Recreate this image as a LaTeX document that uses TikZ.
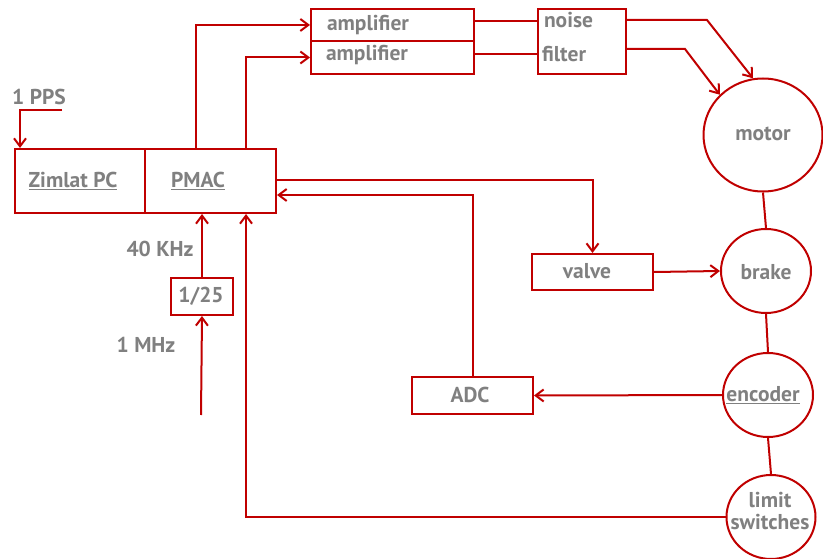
\documentclass[tikz,border=0pt]{standalone}
\usepackage{fontspec}
\setmainfont{PT Sans}
\usetikzlibrary{arrows.meta,shapes.geometric}
\definecolor{dred}{RGB}{192,0,0}
\definecolor{tgray}{RGB}{128,128,128}
\newcommand{\lblfont}{\fontsize{21.5}{23}\selectfont\bfseries}
\begin{document}
\begin{tikzpicture}[x=1pt,y=-1pt,line width=2pt,
  lbl/.style={font=\lblfont,text=tgray,inner sep=0pt,align=center},
  box/.style={draw=dred,rectangle,inner sep=0pt,anchor=north west},
  oval/.style={draw=dred,ellipse,inner sep=0pt},
  wire/.style={draw=dred,line width=2pt},
  arr/.style={wire,-{Straight Barb[length=8pt,width=12pt]}}]
\useasboundingbox (0,0) rectangle (823,559);
% boxes
\node[box,minimum width=130pt,minimum height=64pt] (zp) at (14,148) {};
\node[box,minimum width=131pt,minimum height=64pt] (pm) at (144,148) {};
\node[lbl] (zpt) at (73,181) {\underline{Zimlat PC}};
\node[lbl] (pmt) at (198,181) {\underline{PMAC}};
\node[box,minimum width=163pt,minimum height=32pt] (amp1) at (310,8) {};
\node[box,minimum width=163pt,minimum height=33pt] (amp2) at (310,40) {};
\node[lbl,anchor=west] (amp1t) at (326,25) {amplifier};
\node[lbl,anchor=west] (amp2t) at (325,55) {amplifier};
\node[box,minimum width=88pt,minimum height=65pt] (nf) at (537,8) {};
\node[lbl,anchor=west] (nft1) at (543,20) {noise};
\node[lbl,anchor=west] (nft2) at (541,54) {filter};
\node[box,minimum width=121pt,minimum height=36pt] (valve) at (531,253) {};
\node[lbl] (valvet) at (587,271) {valve};
\node[box,minimum width=121pt,minimum height=37pt] (adc) at (411,376) {};
\node[lbl] (adct) at (470,395) {ADC};
\node[box,minimum width=62pt,minimum height=37pt] (div) at (170,277) {};
\node[lbl] (divt) at (201,296) {1/25};
% ovals
\node[oval,minimum width=119pt,minimum height=113pt] (motor) at (763,135) {};
\node[oval,minimum width=90pt,minimum height=84pt] (brake) at (766,271) {};
\node[oval,minimum width=90pt,minimum height=84pt] (enc) at (768,395) {};
\node[oval,minimum width=89pt,minimum height=84pt] (limit) at (771,517) {};
\node[lbl] (motort) at (763,134) {motor};
\node[lbl] (braket) at (766,272) {brake};
\node[lbl] (enct) at (763,395) {\underline{encoder}};
\node[lbl] (limitt) at (770,511) {limit\\[-1pt]switches};
% labels
\node[lbl] (pps) at (39,97) {1 PPS};
\node[lbl] (khz) at (160,249) {40 KHz};
\node[lbl] (mhz) at (146,345) {1 MHz};
% helper coordinates
\coordinate (ppsS) at (62,110);
\coordinate (x20) at (20,0);
\coordinate (x196) at (196,0);
\coordinate (x246) at (246,0);
\coordinate (y20) at (0,20);
\coordinate (y49) at (0,49);
\coordinate (y21) at (0,21);
\coordinate (y54) at (0,54);
\coordinate (y180) at (0,180);
\coordinate (y195) at (0,195);
\coordinate (b1) at (707,20);
\coordinate (b2) at (685,49);
\coordinate (mhzS) at (201,415);
% connectors
\draw[arr] (ppsS) -| (zp.north -| x20);
\draw[arr] (pm.north -| x196) |- (amp1.west);
\draw[arr] (pm.north -| x246) |- (amp2.west);
\draw[wire] (amp1.east |- y21) -- (nf.west |- y21);
\draw[wire] (amp2.east |- y54) -- (nf.west |- y54);
\draw[arr] (nf.east |- y20) -- (b1) -- (motor.100);
\draw[arr] (nf.east |- y49) -- (b2) -- (motor.137);
\draw[wire] (motor.south) -- (brake.north);
\draw[wire] (brake.south) -- (enc.north);
\draw[wire] (enc.south) -- (limit.north);
\draw[arr] (limit.west) -| (pm.south -| x246);
\draw[arr] (pm.east |- y180) -| (valve.north);
\draw[arr] (valve.east) -- (brake.west);
\draw[arr] (enc.west) -- (adc.east);
\draw[arr] (adc.north) |- (pm.east |- y195);
\draw[arr] (div.north) -- (pm.south -| div.north);
\draw[arr] (mhzS) -- (div.south);
\end{tikzpicture}
\end{document}
